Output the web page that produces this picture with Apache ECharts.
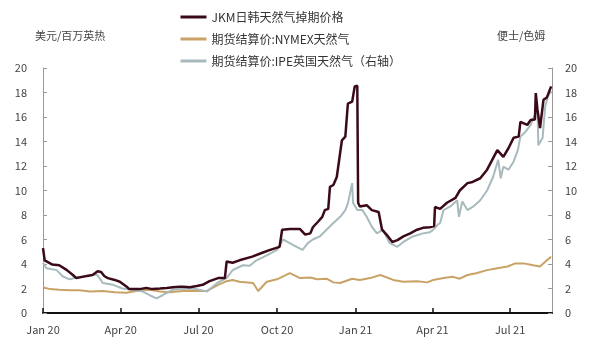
<!DOCTYPE html>
<html>
<head>
<meta charset="utf-8">
<script src="https://cdn.jsdelivr.net/npm/echarts@6/dist/echarts.min.js"></script>
<style>
html,body{margin:0;padding:0;background:#fff;}
#chart{width:600px;height:345px;}
</style>
</head>
<body>
<div id="chart"></div>
<script>
const seriesNames = ['JKM日韩天然气掉期价格', '期货结算价:NYMEX天然气', '期货结算价:IPE英国天然气（右轴）'];
const leftUnit = '美元/百万英热';
const rightUnit = '便士/色姆';
const xTickDates = ['2020-01-01','2020-04-01','2020-07-01','2020-10-01','2021-01-01','2021-04-01','2021-07-01'];
const monthNames = ['Jan','Feb','Mar','Apr','May','Jun','Jul','Aug','Sep','Oct','Nov','Dec'];
const xRange = ['2020-01-01', '2021-08-19'];

const jkm = [
['2020-01-01',5.3],['2020-01-03',4.3],['2020-01-12',3.95],['2020-01-20',3.9],['2020-01-29',3.5],
['2020-02-05',3.1],['2020-02-09',2.85],['2020-02-16',2.95],['2020-02-28',3.1],['2020-03-05',3.4],
['2020-03-09',3.35],['2020-03-13',3.0],['2020-03-17',2.85],['2020-03-25',2.7],['2020-03-31',2.55],
['2020-04-08',2.15],['2020-04-11',1.95],['2020-04-23',1.95],['2020-05-01',2.05],['2020-05-08',1.95],
['2020-05-17',2.0],['2020-05-25',2.05],['2020-06-01',2.1],['2020-06-09',2.15],['2020-06-13',2.15],
['2020-06-21',2.1],['2020-06-29',2.2],['2020-07-06',2.3],['2020-07-14',2.6],['2020-07-24',2.85],
['2020-08-01',2.85],['2020-08-02',2.9],['2020-08-03',4.2],['2020-08-10',4.1],['2020-08-18',4.3],
['2020-09-02',4.6],['2020-09-13',4.9],['2020-09-23',5.15],['2020-10-04',5.4],['2020-10-06',5.45],
['2020-10-07',6.8],['2020-10-16',6.85],['2020-10-28',6.85],['2020-11-03',6.4],['2020-11-09',6.5],
['2020-11-12',7.0],['2020-11-18',7.45],['2020-11-23',7.85],['2020-11-26',8.4],['2020-11-30',8.5],
['2020-12-02',10.3],['2020-12-06',10.45],['2020-12-10',11.1],['2020-12-16',14.1],['2020-12-20',14.4],
['2020-12-23',17.1],['2020-12-28',17.25],['2020-12-31',18.5],['2021-01-03',18.55],['2021-01-04',9.0],
['2021-01-06',8.7],['2021-01-14',8.8],['2021-01-20',8.4],['2021-01-28',8.25],['2021-02-01',6.8],
['2021-02-08',6.25],['2021-02-13',5.8],['2021-02-19',5.95],['2021-02-26',6.25],['2021-03-06',6.5],
['2021-03-14',6.8],['2021-03-21',6.95],['2021-03-29',7.0],['2021-04-03',7.1],['2021-04-04',8.65],
['2021-04-10',8.5],['2021-04-18',9.0],['2021-04-28',9.4],['2021-05-03',10.0],['2021-05-12',10.6],
['2021-05-18',10.7],['2021-05-27',11.0],['2021-06-04',11.7],['2021-06-10',12.5],['2021-06-16',13.3],
['2021-06-23',12.75],['2021-06-29',13.45],['2021-07-05',14.3],['2021-07-11',14.4],['2021-07-13',15.6],
['2021-07-21',15.35],['2021-07-25',15.75],['2021-07-30',15.8],['2021-07-31',17.95],['2021-08-02',16.6],
['2021-08-05',15.1],['2021-08-09',17.4],['2021-08-13',17.6],['2021-08-18',18.5]
];

const nymex = [
['2020-01-01',2.1],['2020-01-09',1.95],['2020-01-20',1.9],['2020-02-01',1.85],['2020-02-13',1.85],
['2020-02-25',1.75],['2020-03-11',1.8],['2020-03-25',1.7],['2020-04-08',1.65],['2020-04-23',1.85],
['2020-05-05',1.9],['2020-05-17',1.75],['2020-05-28',1.7],['2020-06-13',1.8],['2020-06-29',1.8],
['2020-07-11',1.8],['2020-07-24',2.3],['2020-08-03',2.6],['2020-08-10',2.7],['2020-08-18',2.55],
['2020-09-03',2.45],['2020-09-09',1.8],['2020-09-19',2.55],['2020-10-01',2.75],['2020-10-16',3.25],
['2020-10-28',2.85],['2020-11-09',2.9],['2020-11-17',2.75],['2020-11-28',2.8],['2020-12-06',2.5],
['2020-12-14',2.45],['2020-12-28',2.8],['2021-01-06',2.7],['2021-01-18',2.85],['2021-01-30',3.1],
['2021-02-14',2.7],['2021-02-26',2.55],['2021-03-14',2.6],['2021-03-26',2.5],['2021-04-02',2.7],
['2021-04-14',2.85],['2021-04-25',2.95],['2021-05-03',2.8],['2021-05-12',3.1],['2021-05-22',3.25],
['2021-06-04',3.5],['2021-06-16',3.65],['2021-06-28',3.8],['2021-07-07',4.05],['2021-07-17',4.05],
['2021-07-28',3.9],['2021-08-05',3.8],['2021-08-13',4.3],['2021-08-18',4.6]
];

const ipe = [
['2020-01-01',4.1],['2020-01-05',3.65],['2020-01-17',3.5],['2020-01-24',3.0],['2020-02-01',2.75],
['2020-02-13',2.95],['2020-02-25',3.1],['2020-03-04',3.15],['2020-03-11',2.45],['2020-03-23',2.3],
['2020-04-03',2.0],['2020-04-15',1.9],['2020-04-27',1.75],['2020-05-05',1.45],['2020-05-13',1.2],
['2020-05-20',1.45],['2020-06-01',1.9],['2020-06-17',2.0],['2020-06-29',1.95],['2020-07-11',1.75],
['2020-07-23',2.45],['2020-08-03',2.85],['2020-08-10',3.5],['2020-08-22',3.9],['2020-08-30',3.85],
['2020-09-07',4.3],['2020-09-19',4.7],['2020-10-01',5.15],['2020-10-08',6.0],['2020-10-16',5.7],
['2020-10-24',5.4],['2020-10-31',5.15],['2020-11-06',5.7],['2020-11-12',6.0],['2020-11-20',6.25],
['2020-11-28',6.8],['2020-12-06',7.35],['2020-12-14',7.85],['2020-12-20',8.4],['2020-12-23',8.95],
['2020-12-28',10.6],['2020-12-29',9.0],['2021-01-03',8.4],['2021-01-09',8.4],['2021-01-14',7.85],
['2021-01-20',7.05],['2021-01-26',6.5],['2021-02-02',6.8],['2021-02-10',5.7],['2021-02-19',5.4],
['2021-02-26',5.8],['2021-03-09',6.25],['2021-03-21',6.5],['2021-03-29',6.6],['2021-04-02',6.8],
['2021-04-07',7.2],['2021-04-10',7.35],['2021-04-14',8.4],['2021-04-22',8.7],['2021-04-30',9.2],
['2021-05-02',7.85],['2021-05-06',9.1],['2021-05-12',8.4],['2021-05-19',8.7],['2021-05-27',9.2],
['2021-06-04',10.0],['2021-06-11',11.1],['2021-06-17',12.5],['2021-06-20',11.0],['2021-06-23',11.95],
['2021-06-29',11.7],['2021-07-05',12.35],['2021-07-10',13.3],['2021-07-13',14.4],['2021-07-19',14.8],
['2021-07-25',15.35],['2021-07-28',15.9],['2021-08-02',16.6],['2021-08-03',13.7],['2021-08-08',14.3],
['2021-08-11',16.85],['2021-08-14',17.65],['2021-08-18',18.1]
];

const colors = ['#3a0a18', '#c9a266', '#a8babd'];
const FONT = '"Noto Sans CJK SC", "Noto Sans", sans-serif';
const ts = d => Date.parse(d + 'T00:00:00Z');
const toXY = arr => arr.map(p => [ts(p[0]), p[1]]);
const tickTs = xTickDates.map(ts);

const chart = echarts.init(document.getElementById('chart'), null, {renderer: 'canvas'});
chart.setOption({
  animation: false,
  backgroundColor: '#fff',
  textStyle: {fontFamily: FONT},
  legend: {
    orient: 'vertical',
    left: 174,
    top: 6,
    itemWidth: 26,
    itemHeight: 14,
    itemGap: 10,
    itemStyle: {opacity: 0},
    lineStyle: {width: 3},
    textStyle: {fontSize: 12, color: '#333', fontFamily: FONT},
    data: seriesNames
  },
  graphic: [
    {type: 'text', left: 35, top: 30, style: {text: leftUnit, fill: '#444', font: '11px ' + FONT}},
    {type: 'text', left: 497, top: 30, style: {text: rightUnit, fill: '#444', font: '11px ' + FONT}}
  ],
  grid: {left: 43, right: 48, top: 68, bottom: 32, containLabel: false},
  xAxis: {
    type: 'value',
    min: ts(xRange[0]),
    max: ts(xRange[1]),
    axisLine: {show: true, onZero: false, lineStyle: {color: '#111', width: 2}},
    axisTick: {show: true, inside: true, length: 5, lineStyle: {color: '#111', width: 1.5}, customValues: tickTs},
    axisLabel: {
      color: '#444', fontSize: 11, margin: 11, fontFamily: FONT,
      customValues: tickTs,
      formatter: function (v) {
        const d = new Date(v);
        return monthNames[d.getUTCMonth()] + ' ' + String(d.getUTCFullYear()).slice(2);
      }
    },
    splitLine: {show: false}
  },
  yAxis: [
    {
      type: 'value', min: 0, max: 20, interval: 2, position: 'left',
      axisLine: {show: true, lineStyle: {color: '#999', width: 1}},
      axisTick: {show: true, inside: true, length: 4, lineStyle: {color: '#999'}},
      axisLabel: {color: '#444', fontSize: 11, margin: 16, fontFamily: FONT},
      splitLine: {show: false}
    },
    {
      type: 'value', min: 0, max: 20, interval: 2, position: 'right',
      axisLine: {show: true, lineStyle: {color: '#999', width: 1}},
      axisTick: {show: true, inside: true, length: 4, lineStyle: {color: '#999'}},
      axisLabel: {color: '#444', fontSize: 11, margin: 13, fontFamily: FONT},
      splitLine: {show: false}
    }
  ],
  series: [
    {name: seriesNames[0], type: 'line', data: toXY(jkm), yAxisIndex: 0, symbol: 'none', z: 5,
     lineStyle: {color: colors[0], width: 2.5}, itemStyle: {color: colors[0]}},
    {name: seriesNames[1], type: 'line', data: toXY(nymex), yAxisIndex: 0, symbol: 'none', z: 3,
     lineStyle: {color: colors[1], width: 2}, itemStyle: {color: colors[1]}},
    {name: seriesNames[2], type: 'line', data: toXY(ipe), yAxisIndex: 1, symbol: 'none', z: 4,
     lineStyle: {color: colors[2], width: 2}, itemStyle: {color: colors[2]}}
  ]
});
</script>
</body>
</html>
